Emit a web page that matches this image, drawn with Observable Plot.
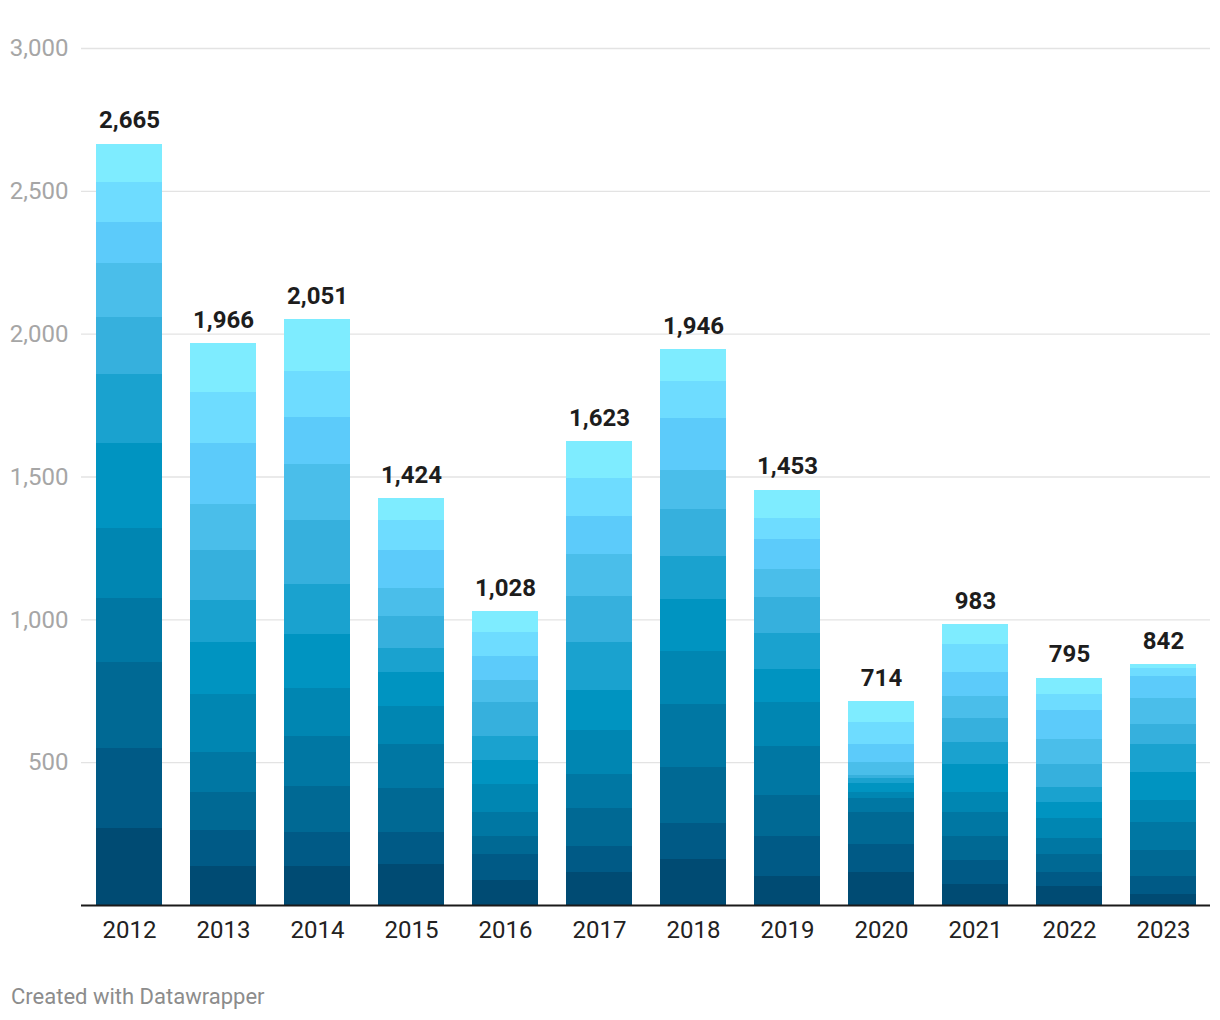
<!DOCTYPE html>
<html>
<head>
<meta charset="utf-8">
<script src="https://cdn.jsdelivr.net/npm/d3@7"></script>
<script src="https://cdn.jsdelivr.net/npm/@observablehq/plot@0.6"></script>
<style>
  html, body { margin: 0; padding: 0; background: #ffffff; }
  body { font-family: Roboto, "Noto Sans", sans-serif; width: 1220px; }
  #footer { font-size: 22px; color: #8c8c8c; padding-left: 11px; margin-top: 24px; line-height: normal; }
</style>
</head>
<body>
<div id="chart"></div>
<div id="footer">Created with Datawrapper</div>
<script>
// Categories
const years = ["2012", "2013", "2014", "2015", "2016", "2017", "2018", "2019", "2020", "2021", "2022", "2023"];
// Stack series (bottom to top)
const months = ["Jan", "Feb", "Mar", "Apr", "May", "Jun", "Jul", "Aug", "Sep", "Oct", "Nov", "Dec"];

// Segment values per year, bottom to top
const v2012 = [271, 277, 304, 221, 245, 301, 241, 200, 189, 143, 140, 133];
const v2013 = [135, 126, 136, 137, 206, 179, 147, 175, 161, 217, 178, 169];
const v2014 = [135, 119, 164, 172, 168, 189, 175, 227, 196, 165, 161, 180];
const v2015 = [145, 112, 154, 151, 133, 119, 84, 112, 101, 130, 108, 75];
const v2016 = [89, 88, 66, 84, 95, 84, 87, 116, 77, 84, 84, 74];
const v2017 = [114, 94, 130, 119, 154, 140, 168, 164, 144, 133, 136, 127];
const v2018 = [160, 128, 195, 219, 187, 182, 150, 164, 137, 184, 129, 111];
const v2019 = [100, 140, 146, 171, 154, 115, 126, 126, 97, 106, 72, 100];
const v2020 = [117, 95, 112, 52, 19, 31, 18, 10, 45, 64, 79, 72];
const v2021 = [72, 84, 84, 84, 73, 95, 80, 81, 80, 81, 98, 71];
const v2022 = [65, 49, 63, 56, 73, 54, 52, 80, 88, 102, 55, 58];
const v2023 = [37, 66, 88, 98, 80, 95, 98, 73, 88, 80, 28, 11];

// Y tick values
const yTicks = [500, 1000, 1500, 2000, 2500, 3000];

// Colours, bottom to top
const colors = ["#004b73", "#005a86", "#006994", "#0077a3", "#0086b2", "#0094c1",
                "#1aa2cf", "#36b0dd", "#4abeea", "#5ccbfa", "#6edcff", "#7eecff"];

const valuesByYear = [v2012, v2013, v2014, v2015, v2016, v2017, v2018, v2019, v2020, v2021, v2022, v2023];
const rows = years.flatMap((y, i) => valuesByYear[i].map((v, j) => ({year: y, month: months[j], value: v})));
const totals = years.map((y, i) => ({year: y, total: d3.sum(valuesByYear[i])}));
const fmt = d3.format(",");

const chart = Plot.plot({
  width: 1220,
  height: 960,
  marginLeft: 81,
  marginRight: 10,
  marginTop: 48,
  marginBottom: 55,
  style: {fontFamily: "Roboto, 'Noto Sans', sans-serif", background: "#ffffff", overflow: "visible"},
  x: {domain: years, paddingInner: 0.3, paddingOuter: 0.15, label: null, axis: null},
  y: {domain: [0, 3000], label: null, axis: null},
  color: {domain: months, range: colors},
  marks: [
    Plot.gridY(yTicks, {stroke: "#e3e3e3", strokeOpacity: 1, strokeWidth: 1.3}),
    Plot.axisY(yTicks, {tickSize: 0, tickPadding: 13, tickFormat: fmt, fontSize: 24, fill: "#a6a6a6", label: null}),
    Plot.barY(rows, {x: "year", y: "value", fill: "month", shapeRendering: "crispEdges"}),
    Plot.ruleY([0], {stroke: "#1a1a1a", strokeWidth: 2}),
    Plot.axisX({tickSize: 0, tickPadding: 15, fontSize: 24, fill: "#222222", label: null}),
    Plot.text(totals, {x: "year", y: "total", text: d => fmt(d.total), lineAnchor: "bottom", dy: -16,
                       fontWeight: 700, fontSize: 24, fill: "#1d1d1d"})
  ]
});
document.getElementById("chart").appendChild(chart);
</script>
</body>
</html>
